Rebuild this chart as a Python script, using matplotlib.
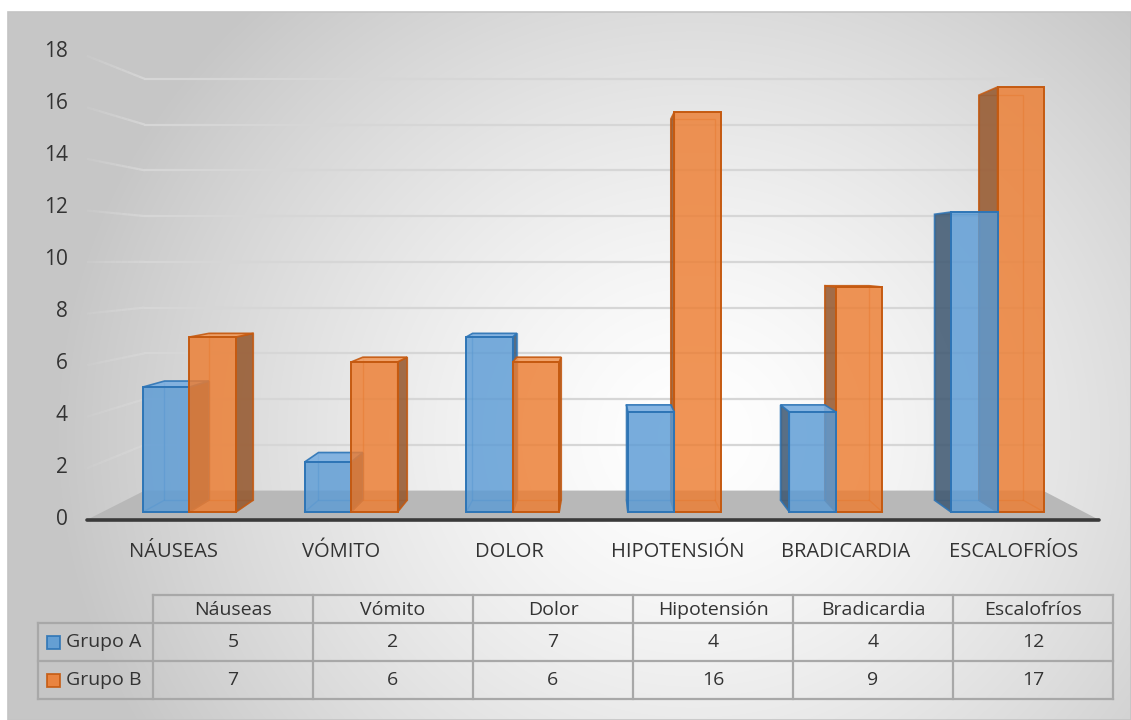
import numpy as np
import matplotlib
matplotlib.use("Agg")
import matplotlib.pyplot as plt
from matplotlib.patches import Polygon, Rectangle
from matplotlib.collections import LineCollection

# ---- data -------------------------------------------------------------
categories_axis = ["NÁUSEAS", "VÓMITO", "DOLOR", "HIPOTENSIÓN", "BRADICARDIA", "ESCALOFRÍOS"]
categories_table = ["Náuseas", "Vómito", "Dolor", "Hipotensión", "Bradicardia", "Escalofríos"]
series_names = ["Grupo A", "Grupo B"]
grupo_a = [5, 2, 7, 4, 4, 12]
grupo_b = [7, 6, 6, 16, 9, 17]
y_ticks = [0, 2, 4, 6, 8, 10, 12, 14, 16, 18]

# ---- styling ----------------------------------------------------------
FONT = ["Open Sans", "DejaVu Sans"]
TEXT = "#333333"
BASE = ["#5b9bd5", "#ed7d31"]
EDGE = ["#2e75b6", "#c55a11"]
SIDE = ["#3c5670", "#94552a"]
TOP = ["#7aaee0", "#f09a5c"]

W, H = 1131, 720
fig = plt.figure(figsize=(W / 100, H / 100), dpi=100)

# background layer in pixel units
bg = fig.add_axes([0, 0, 1, 1])
bg.set_xlim(0, W)
bg.set_ylim(H, 0)
bg.axis("off")
yy, xx = np.mgrid[0:H, 0:W].astype(float)
d = np.sqrt(((xx - 690) / 640) ** 2 + ((yy - 430) / 600) ** 2)
t = np.clip(d, 0, 1) ** 1.4
light = np.array([1.0, 1.0, 1.0])
dark = np.array([0.78, 0.78, 0.78])
img = light[None, None, :] * (1 - t[..., None]) + dark[None, None, :] * t[..., None]
bg.imshow(img, extent=(8, W, H, 12), zorder=0, aspect="auto", interpolation="bilinear")
bg.add_patch(Rectangle((8, 12), W - 8, H - 12, fill=False, ec="#c4c4c4", lw=1.2, zorder=1))

# chart layer: x in category units, y in value units (front plane of the bars)
ax = fig.add_axes([0, 0, 1, 1])
ax.set_xlim(-1.1726, 5.826)
ax.set_ylim(-8.32, 20.48)
ax.axis("off")
ax.patch.set_visible(False)

VPX, VPY = 2.54, 10.08          # vanishing point
S_FLOOR_FRONT = 1.031
S_WALL = 0.915
S_BAR_BACK = 0.953
S_LABEL = 1.04
X_LEFT, X_RIGHT = -0.539, 5.535
HALF = 0.2877


def P(x, v, s):
    return (VPX + s * (x - VPX), VPY + s * (v - VPY))


# floor
floor = [P(X_LEFT, 0, S_FLOOR_FRONT), P(X_RIGHT, 0, S_FLOOR_FRONT),
         P(X_RIGHT, 0, S_WALL), P(X_LEFT, 0, S_WALL)]
ax.add_patch(Polygon(floor, closed=True, fc="#b8b8b8", ec="none", zorder=2))
fx = [P(X_LEFT, 0, S_FLOOR_FRONT)[0], P(X_RIGHT, 0, S_FLOOR_FRONT)[0]]
fy = P(X_LEFT, 0, S_FLOOR_FRONT)[1]
ax.plot(fx, [fy, fy], color="#3a3a3a", lw=2.6, solid_capstyle="round", zorder=3)

# gridlines on back wall and left wall
for v in y_ticks[1:]:
    a = P(X_LEFT, v, S_WALL)
    b = P(X_RIGHT, v, S_WALL)
    ax.plot([a[0], b[0]], [a[1], b[1]], color="#d6d6d6", lw=1.6, zorder=1)
    segs, alphas = [], []
    n = 10
    for k in range(n):
        s0 = S_FLOOR_FRONT + (S_WALL - S_FLOOR_FRONT) * k / n
        s1 = S_FLOOR_FRONT + (S_WALL - S_FLOOR_FRONT) * (k + 1) / n
        segs.append([P(X_LEFT, v, s0), P(X_LEFT, v, s1)])
        alphas.append(0.15 + 0.8 * (k + 1) / n)
    cols = [(0.84, 0.84, 0.84, al) for al in alphas]
    ax.add_collection(LineCollection(segs, colors=cols, linewidths=1.6, zorder=1))

# y tick labels
for v in y_ticks:
    ax.text(-0.752, VPY + S_LABEL * (v - VPY) + 0.12, str(v), ha="right", va="center",
            fontsize=15, color=TEXT, family=FONT)

# category labels
for i, lab in enumerate(categories_axis):
    ax.text(VPX + S_LABEL * (i - VPX), -1.6, lab, ha="center", va="center",
            fontsize=14.5, color=TEXT, family=FONT)


def draw_bar(x0, x1, v, k, z):
    sb = S_BAR_BACK
    # back outline seen through the translucent faces
    back = [P(x0, 0, sb), P(x1, 0, sb), P(x1, v, sb), P(x0, v, sb)]
    ax.add_patch(Polygon(back, closed=True, fill=False, ec=EDGE[k], lw=1.0, alpha=0.45, zorder=z))
    for xe in (x0, x1):
        p0, p1 = P(xe, 0, 1), P(xe, 0, sb)
        ax.plot([p0[0], p1[0]], [p0[1], p1[1]], color=EDGE[k], lw=1.0, alpha=0.45, zorder=z)
    # side face
    if x1 < VPX:
        side = [P(x1, 0, 1), P(x1, 0, sb), P(x1, v, sb), P(x1, v, 1)]
        ax.add_patch(Polygon(side, closed=True, fc=SIDE[k], ec=EDGE[k], lw=1.2, alpha=0.85, zorder=z + 0.1))
    if x0 > VPX:
        side = [P(x0, 0, 1), P(x0, 0, sb), P(x0, v, sb), P(x0, v, 1)]
        ax.add_patch(Polygon(side, closed=True, fc=SIDE[k], ec=EDGE[k], lw=1.2, alpha=0.85, zorder=z + 0.1))
    # top face
    if v < VPY:
        top = [P(x0, v, 1), P(x1, v, 1), P(x1, v, sb), P(x0, v, sb)]
        ax.add_patch(Polygon(top, closed=True, fc=TOP[k], ec=EDGE[k], lw=1.2, alpha=0.9, zorder=z + 0.2))
    # front face
    ax.bar(x0, v, width=x1 - x0, align="edge", color=BASE[k], alpha=0.82,
           edgecolor="none", zorder=z + 0.3)
    ax.bar(x0, v, width=x1 - x0, align="edge", fill=False,
           edgecolor=EDGE[k], lw=1.4, zorder=z + 0.4)


series = [grupo_a, grupo_b]
for i in range(len(categories_axis)):
    spans = [(i - HALF, i), (i, i + HALF)]
    order = [0, 1] if i < VPX else [1, 0]
    for j, k in enumerate(order):
        x0, x1 = spans[k]
        draw_bar(x0, x1, series[k][i], k, 5 + i * 2 + j)

# ---- data table (pixel layout) ----------------------------------------
tab = fig.add_axes([0, 0, 1, 1])
tab.set_xlim(0, W)
tab.set_ylim(H, 0)
tab.axis("off")
tab.patch.set_visible(False)
col_edges = [153 + 160 * c for c in range(7)]
leg_left = 38
row_edges = [595, 623, 661, 699]
LC = "#a8a8a8"
LW = 1.6
tab.plot([col_edges[0], col_edges[-1]], [row_edges[0]] * 2, color=LC, lw=LW)
for r in row_edges[1:]:
    tab.plot([leg_left, col_edges[-1]], [r, r], color=LC, lw=LW)
for c in col_edges:
    tab.plot([c, c], [row_edges[0], row_edges[-1]], color=LC, lw=LW)
tab.plot([leg_left, leg_left], [row_edges[1], row_edges[-1]], color=LC, lw=LW)

for c, name in enumerate(categories_table):
    cx = (col_edges[c] + col_edges[c + 1]) / 2
    tab.text(cx, (row_edges[0] + row_edges[1]) / 2 + 1, name, ha="center", va="center",
             fontsize=14, color=TEXT, family=FONT)
    for r, vals in enumerate(series):
        cy = (row_edges[r + 1] + row_edges[r + 2]) / 2
        tab.text(cx, cy, str(vals[c]), ha="center", va="center",
                 fontsize=14, color=TEXT, family=FONT)

for r, name in enumerate(series_names):
    cy = (row_edges[r + 1] + row_edges[r + 2]) / 2
    tab.add_patch(Rectangle((47, cy - 6.5), 13, 13, fc=BASE[r], ec=EDGE[r], lw=1.3, alpha=0.9))
    tab.text(66, cy, name, ha="left", va="center", fontsize=14, color=TEXT, family=FONT)

fig.savefig("out.png", dpi=100)
